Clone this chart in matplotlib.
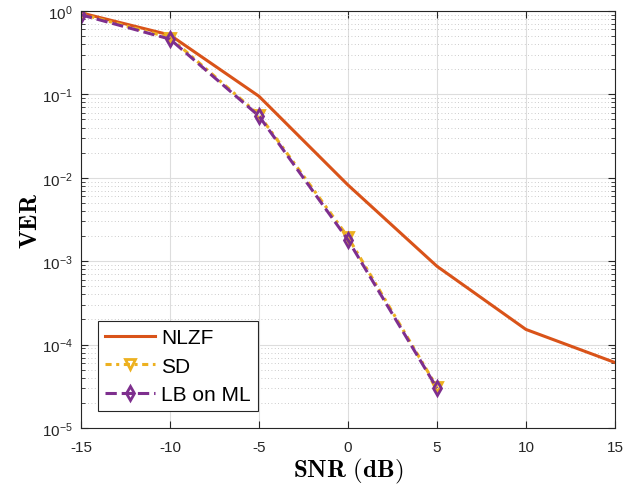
import matplotlib
matplotlib.use('Agg')
import matplotlib.pyplot as plt
import numpy as np

snr = [-15, -10, -5, 0, 5, 10, 15]
snr_short = [-15, -10, -5, 0, 5]
ver_nlzf = [0.95, 0.515, 0.095, 0.0082, 8.7e-4, 1.52e-4, 6.1e-5]
ver_sd = [0.92, 0.48, 0.057, 1.95e-3, 3.1e-5]
ver_lb = [0.90, 0.46, 0.055, 1.8e-3, 3.0e-5]

plt.rcParams['font.family'] = ['Liberation Sans', 'DejaVu Sans']
plt.rcParams['mathtext.fontset'] = 'cm'

fig = plt.figure(figsize=(6.23, 4.89), dpi=100)
ax = fig.add_axes([0.130, 0.1227, 0.857, 0.8528])

ax.semilogy(snr, ver_nlzf, '-', color='#D95319', lw=2.2, label='NLZF')
ax.semilogy(snr_short, ver_sd, color='#EDB120', lw=2.2, ls=(0, (2, 1.5, 1, 1.5)),
            marker='v', ms=7, mfc='none', mew=2, label='SD')
ax.semilogy(snr_short, ver_lb, '--', color='#7E2F8E', lw=2.2, marker='d',
            ms=7, mfc='none', mew=2, label='LB on ML')

ax.set_xlim(-15, 15)
ax.set_ylim(1e-5, 1)
ax.set_xticks(snr)
ax.set_xticklabels([str(v) for v in snr])
ax.set_yticks([1e-5, 1e-4, 1e-3, 1e-2, 1e-1, 1])

ax.grid(True, which='major', color='#dddddd', lw=0.8)
ax.grid(True, which='minor', color='#bbbbbb', lw=0.6, ls=(0, (1, 3)))
ax.set_axisbelow(True)
ax.tick_params(which='both', direction='in', top=True, right=True,
               labelsize=11, colors='#262626')
ax.tick_params(axis='x', pad=9)
ax.tick_params(axis='y', pad=6)
ax.tick_params(which='major', length=5)
ax.tick_params(which='minor', length=3)
for s in ax.spines.values():
    s.set_color('#262626')
    s.set_linewidth(0.8)

ax.set_xlabel(r'$\mathbf{SNR\ (dB)}$', fontsize=18, labelpad=1)
ax.set_ylabel(r'$\mathbf{VER}$', fontsize=18, labelpad=0)

leg = ax.legend(loc='lower left', fontsize=15, fancybox=False,
                edgecolor='#262626', framealpha=1, handlelength=2.4,
                borderaxespad=0.8, handletextpad=0.3, labelspacing=0.45,
                borderpad=0.35)
leg.get_frame().set_linewidth(0.8)

fig.savefig('out.png', dpi=100)
